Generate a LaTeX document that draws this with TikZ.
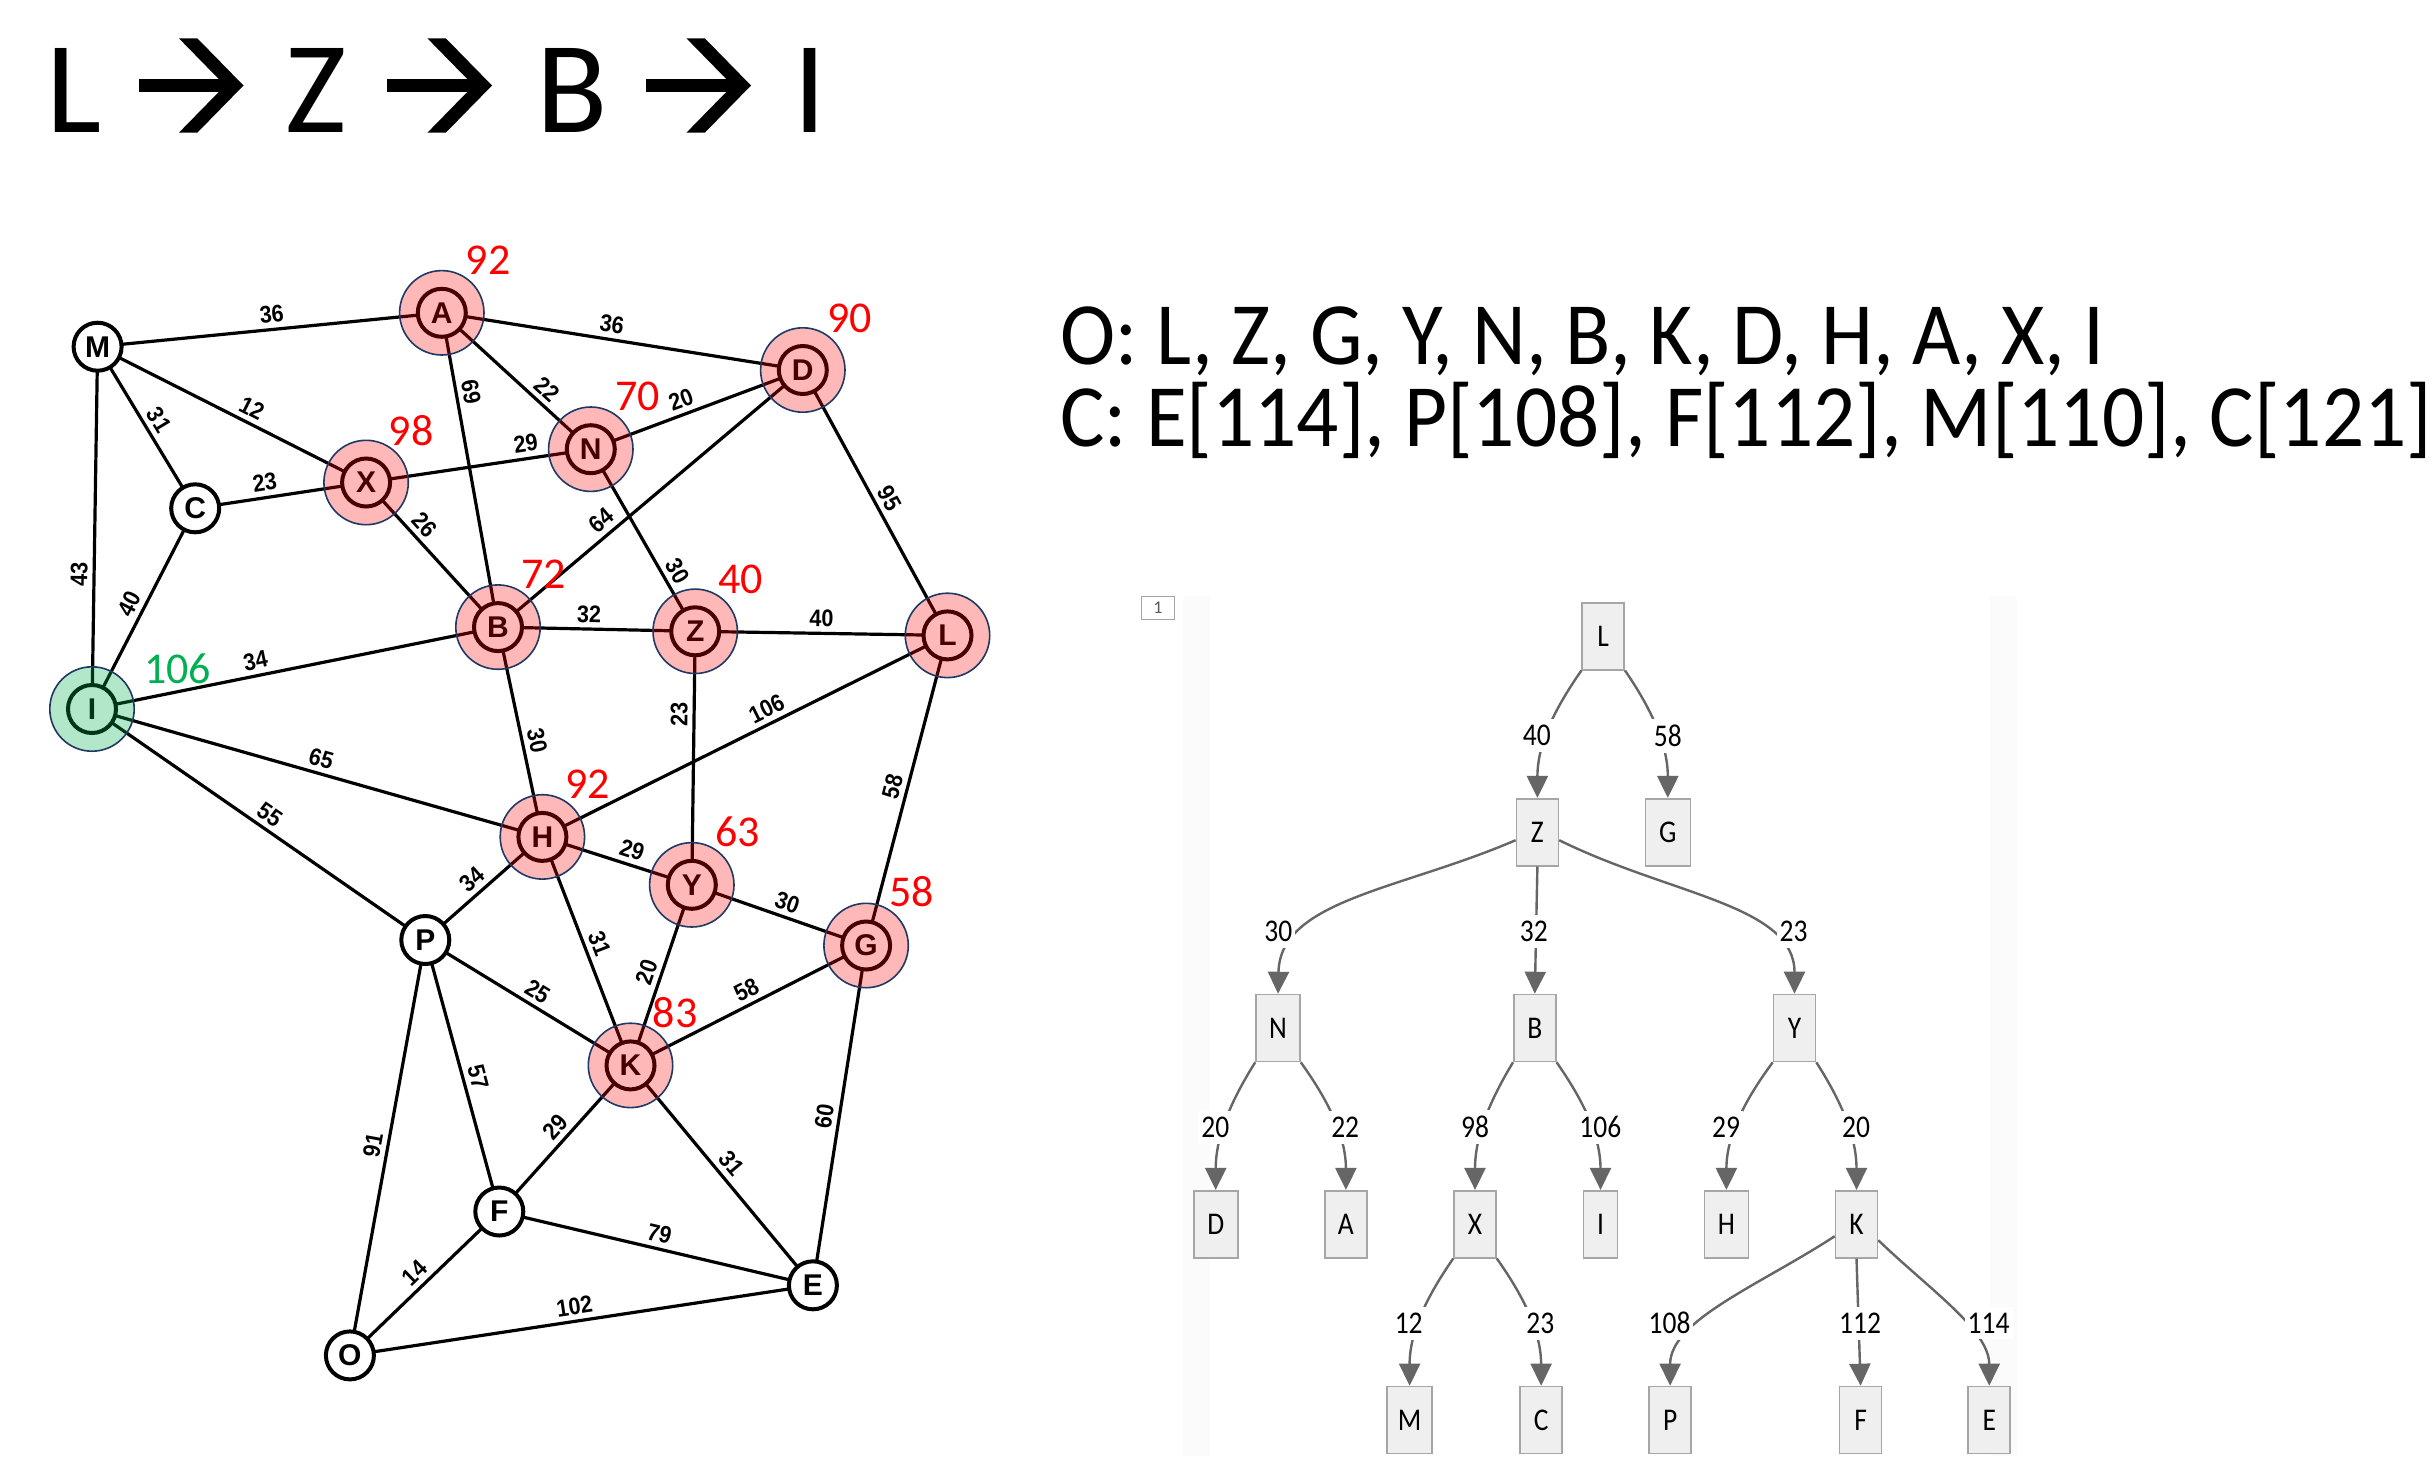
\documentclass[tikz,border=0pt]{standalone}
\usepackage{fontspec}
\setmainfont{Carlito}
\newfontfamily\lsans{Liberation Sans}
\newfontfamily\lsansn{Liberation Sans}[FakeStretch=0.9]
\newfontfamily\treefont{Carlito}[FakeStretch=0.87]
\usetikzlibrary{arrows.meta,backgrounds}
\definecolor{navy}{HTML}{1F3864}
\definecolor{redov}{HTML}{FF0000}
\definecolor{greenov}{HTML}{00B050}
\definecolor{boxfill}{HTML}{EFEFEF}
\definecolor{boxdraw}{HTML}{A6A6A6}
\definecolor{tgray}{HTML}{666666}
\begin{document}
\begin{tikzpicture}[x=0.5pt,y=-0.5pt,
  gnode/.style={circle,draw=black,line width=2pt,fill=white,minimum size=24pt,inner sep=0pt,font=\lsans\bfseries\fontsize{15}{15}\selectfont},
  gedge/.style={line width=1.6pt,draw=black},
  elab/.style={font=\lsansn\bfseries\fontsize{12}{12}\selectfont,sloped,above,inner sep=2.4pt},
  pinkcirc/.style={circle,draw=navy,line width=0.8pt,fill=redov,fill opacity=0.28,minimum size=42.2pt,inner sep=0pt},
  greencirc/.style={circle,draw=navy,line width=0.8pt,fill=greenov,fill opacity=0.3,minimum size=42.2pt,inner sep=0pt},
  rlab/.style={text=red,font=\fontsize{22}{22}\selectfont,inner sep=0pt},
  glab/.style={text=greenov,font=\fontsize{22}{22}\selectfont,inner sep=0pt},
  ttl/.style={font=\fontsize{65.5}{66}\selectfont,inner sep=0pt,anchor=base},
  titlearrow/.style={fill=black},
  listtxt/.style={font=\fontsize{44.5}{45}\selectfont,inner sep=0pt,anchor=base west},
  tbox/.style={draw=boxdraw,fill=boxfill,line width=0.8pt,minimum width=21pt,minimum height=33.5pt,inner sep=0pt,font=\treefont\fontsize{15.8}{16}\selectfont},
  tlab/.style={fill=white,inner xsep=1.5pt,inner ysep=3pt,font=\treefont\fontsize{15.8}{16}\selectfont},
  tedge/.style={draw=tgray,line width=1.2pt,-{Triangle[length=11pt,width=10.5pt]}}
]
\useasboundingbox (0,0) rectangle (2434,1456);

% ---------- title ----------
\node[ttl] (t1) at (74.5,132.7) {L};
\node[ttl] (t3) at (316.5,132.7) {Z};
\node[ttl] (t5) at (572.5,132.7) {B};
\node[ttl] (t7) at (809.8,132.7) {I};
\foreach \s in {0,248.5,507.5} {
  \begin{scope}[shift={(\s,0)}]
    \fill[titlearrow] (138.5,79) rectangle (228,91.7);
    \fill[titlearrow] (178.9,38.3) -- (197.3,38.3) -- (243.5,85.5) -- (197.3,132.7)
                      -- (178.9,132.7) -- (225.1,85.5) -- cycle;
  \end{scope}
}

% ---------- open / closed lists ----------
\node[listtxt] (olist) at (1060,364) {\resizebox{522pt}{\height}{O: L, Z, G, Y, N, B, K, D, H, A, X, I}};
\node[listtxt] (clist) at (1060,446) {\resizebox{685.5pt}{\height}{C: E[114], P[108], F[112], M[110], C[121]}};

% ---------- graph nodes ----------
\node[gnode] (M) at (97.6,346.7) {M};
\node[gnode] (A) at (441.8,312.8) {A};
\node[gnode] (D) at (802.8,370) {D};
\node[gnode] (N) at (590.8,449.2) {N};
\node[gnode] (X) at (366.1,482.5) {X};
\node[gnode] (C) at (195.2,508.3) {C};
\node[gnode] (B) at (498,627.1) {B};
\node[gnode] (Z) at (695.2,631.3) {Z};
\node[gnode] (L) at (947.5,635.4) {L};
\node[gnode] (I) at (92,709) {I};
\node[gnode] (H) at (542.4,836.9) {H};
\node[gnode] (Y) at (691.8,884.8) {Y};
\node[gnode] (G) at (866.1,945.5) {G};
\node[gnode] (P) at (425.3,940) {P};
\node[gnode] (K) at (630.5,1065.4) {K};
\node[gnode] (F) at (499.3,1211.5) {F};
\node[gnode] (E) at (812.9,1285.3) {E};
\node[gnode] (O) at (349.9,1355.4) {O};

% ---------- tree boxes ----------
\node[tbox] (tL) at (1603.2,636.2) {L};
\node[tbox] (tZ) at (1537.4,832.2) {Z};
\node[tbox,minimum width=22.5pt] (tG) at (1667.8,832.2) {G};
\node[tbox,minimum width=22pt] (tN) at (1278,1028) {N};
\node[tbox] (tB) at (1534.8,1028) {B};
\node[tbox] (tY) at (1794.5,1028) {Y};
\node[tbox,minimum width=22pt] (tD) at (1215.7,1224.2) {D};
\node[tbox] (tA) at (1345.9,1224.2) {A};
\node[tbox] (tX) at (1475,1224.2) {X};
\node[tbox,minimum width=17pt] (tI) at (1600.5,1224.2) {I};
\node[tbox,minimum width=22pt] (tH) at (1726.4,1224.2) {H};
\node[tbox] (tK) at (1856.5,1224.2) {K};
\node[tbox,minimum width=22.5pt] (tM) at (1409.6,1420) {M};
\node[tbox] (tC) at (1541.1,1420) {C};
\node[tbox] (tP) at (1670.1,1420) {P};
\node[tbox] (tF) at (1860.6,1420) {F};
\node[tbox] (tE) at (1989.2,1420) {E};
\node[draw=boxdraw,line width=0.5pt,minimum width=16.7pt,minimum height=11.6pt,inner sep=0pt,text=black!65,font=\fontsize{9}{9}\selectfont] (one) at (1158,607.7) {1};

% ---------- background: white page, panel, graph edges ----------
\begin{pgfonlayer}{background}
\fill[white] (0,0) rectangle (2434,1456);
\fill[black!1.5] (1183,596) rectangle (1210,1456);
\fill[black!1.5] (1990,596) rectangle (2017,1456);
\draw[gedge] (M.center) -- node[elab,pos=.51] (eMA) {36} (A.center);
\draw[gedge] (A.center) -- node[elab,pos=.465] (eAD) {36} (D.center);
\draw[gedge] (M.center) -- node[elab,pos=.55] (eMX) {12} (X.center);
\draw[gedge] (M.center) -- node[elab,pos=.50] (eMC) {31} (C.center);
\draw[gedge] (I.center) -- node[elab,pos=.37] (eIM) {43} (M.center);
\draw[gedge] (A.center) -- node[elab,pos=.64] (eAN) {22} (N.center);
\draw[gedge] (A.center) -- node[elab,pos=.26] (eAB) {69} (B.center);
\draw[gedge] (N.center) -- node[elab,pos=.45] (eND) {20} (D.center);
\draw[gedge] (X.center) -- node[elab,pos=.72] (eXN) {29} (N.center);
\draw[gedge] (C.center) -- node[elab,pos=.42] (eCX) {23} (X.center);
\draw[gedge] (X.center) -- node[elab,pos=.36] (eXB) {26} (B.center);
\draw[gedge] (B.center) -- node[elab,pos=.37] (eBD) {64} (D.center);
\draw[gedge] (N.center) -- node[elab,pos=.71] (eNZ) {30} (Z.center);
\draw[gedge] (D.center) -- node[elab,pos=.51] (eDL) {95} (L.center);
\draw[gedge] (I.center) -- node[elab,pos=.49] (eIC) {40} (C.center);
\draw[gedge] (I.center) -- node[elab,pos=.41] (eIB) {34} (B.center);
\draw[gedge] (B.center) -- node[elab,pos=.46] (eBZ) {32} (Z.center);
\draw[gedge] (Z.center) -- node[elab,pos=.50] (eZL) {40} (L.center);
\draw[gedge] (I.center) -- node[elab,pos=.50] (eIH) {65} (H.center);
\draw[gedge] (I.center) -- node[elab,pos=.51] (eIP) {55} (P.center);
\draw[gedge] (B.center) -- node[elab,pos=.555] (eBH) {30} (H.center);
\draw[gedge] (Y.center) -- node[elab,pos=.67] (eYZ) {23} (Z.center);
\draw[gedge] (H.center) -- node[elab,pos=.57] (eHL) {106} (L.center);
\draw[gedge] (G.center) -- node[elab,pos=.50] (eGL) {58} (L.center);
\draw[gedge] (H.center) -- node[elab,pos=.57] (eHY) {29} (Y.center);
\draw[gedge] (P.center) -- node[elab,pos=.48] (ePH) {34} (H.center);
\draw[gedge] (Y.center) -- node[elab,pos=.52] (eYG) {30} (G.center);
\draw[gedge] (H.center) -- node[elab,pos=.49] (eHK) {31} (K.center);
\draw[gedge] (K.center) -- node[elab,pos=.49] (eKY) {20} (Y.center);
\draw[gedge] (K.center) -- node[elab,pos=.52] (eKG) {58} (G.center);
\draw[gedge] (P.center) -- node[elab,pos=.51] (ePK) {25} (K.center);
\draw[gedge] (P.center) -- node[elab,pos=.52] (ePF) {57} (F.center);
\draw[gedge] (O.center) -- node[elab,pos=.50] (eOP) {91} (P.center);
\draw[gedge] (F.center) -- node[elab,pos=.51] (eFK) {29} (K.center);
\draw[gedge] (K.center) -- node[elab,pos=.49] (eKE) {31} (E.center);
\draw[gedge] (E.center) -- node[elab,pos=.49] (eEG) {60} (G.center);
\draw[gedge] (F.center) -- node[elab,pos=.50] (eFE) {79} (E.center);
\draw[gedge] (O.center) -- node[elab,pos=.50] (eOF) {14} (F.center);
\draw[gedge] (O.center) -- node[elab,pos=.49] (eOE) {102} (E.center);
\end{pgfonlayer}

% ---------- highlight overlays ----------
\foreach \n in {A,D,N,X,B,Z,L,H,Y,G,K} {\node[pinkcirc] (ov\n) at (\n) {};}
\node[greencirc] (ovI) at (I) {};

% ---------- cost labels ----------
\node[rlab] (cA) at (488,260.4) {92};
\node[rlab] (cD) at (849.3,317.9) {90};
\node[rlab] (cN) at (637.3,396.7) {70};
\node[rlab] (cX) at (411.2,430.4) {98};
\node[rlab] (cB) at (543.7,573.8) {72};
\node[rlab] (cZ) at (740.9,579.2) {40};
\node[glab] (cI) at (177.7,668.3) {106};
\node[rlab] (cH) at (587.5,783.9) {92};
\node[rlab] (cY) at (737.5,831.4) {63};
\node[rlab] (cG) at (911.8,891.6) {58};
\node[rlab] (cK) at (675,1012.4) {83};

% ---------- tree edges ----------
\draw[tedge] (tL.south west) .. controls (1555.3,707.7) and (1537.4,743.7) .. (tZ.north);
\draw[tedge] (tL.south east) .. controls (1650.4,707.7) and (1667.8,743.7) .. (tG.north);
\draw[tedge] ([yshift=-4pt]tZ.west) .. controls (1400,890) and (1280,900) .. (tN.north);
\draw[tedge] (tZ.south) -- (tB.north);
\draw[tedge] ([yshift=-4pt]tZ.east) .. controls (1670,895) and (1794.5,905) .. (tY.north);
\draw[tedge] (tN.south west) .. controls (1231.8,1099.5) and (1215.7,1135.7) .. (tD.north);
\draw[tedge] (tN.south east) .. controls (1327.5,1099.5) and (1345.9,1135.7) .. (tA.north);
\draw[tedge] (tB.south west) .. controls (1490.5,1099.5) and (1475,1135.7) .. (tX.north);
\draw[tedge] (tB.south east) .. controls (1582.6,1099.5) and (1600.5,1135.7) .. (tI.north);
\draw[tedge] (tY.south west) .. controls (1745.2,1099.5) and (1726.4,1135.7) .. (tH.north);
\draw[tedge] (tY.south east) .. controls (1840.1,1099.5) and (1856.5,1135.7) .. (tK.north);
\draw[tedge] (tX.south west) .. controls (1427.4,1295.7) and (1409.6,1331.5) .. (tM.north);
\draw[tedge] (tX.south east) .. controls (1523.1,1295.7) and (1541.1,1331.5) .. (tC.north);
\draw[tedge] ([yshift=-6pt]tK.west) .. controls (1760,1285) and (1670.1,1320) .. (tP.north);
\draw[tedge] (tK.south) -- (tF.north);
\draw[tedge] ([yshift=-8pt]tK.east) .. controls (1930,1290) and (1989.2,1330) .. (tE.north);

% ---------- tree edge labels ----------
\node[tlab] (l1) at (1536.8,735.7) {40};
\node[tlab] (l2) at (1667.8,735.7) {58};
\node[tlab] (l3) at (1278.3,931.7) {30};
\node[tlab] (l4) at (1533.9,931.7) {32};
\node[tlab] (l5) at (1793.6,931.7) {23};
\node[tlab] (l6) at (1215.4,1127.3) {20};
\node[tlab] (l7) at (1345.2,1127.3) {22};
\node[tlab] (l8) at (1475.1,1127.3) {98};
\node[tlab] (l9) at (1600.3,1127.3) {106};
\node[tlab] (l10) at (1726,1127.3) {29};
\node[tlab] (l11) at (1856,1127.3) {20};
\node[tlab] (l12) at (1408.7,1323.3) {12};
\node[tlab] (l13) at (1540.3,1323.3) {23};
\node[tlab] (l14) at (1669.5,1323.3) {108};
\node[tlab] (l15) at (1860,1323.3) {112};
\node[tlab] (l16) at (1988.6,1323.3) {114};
\end{tikzpicture}
\end{document}
